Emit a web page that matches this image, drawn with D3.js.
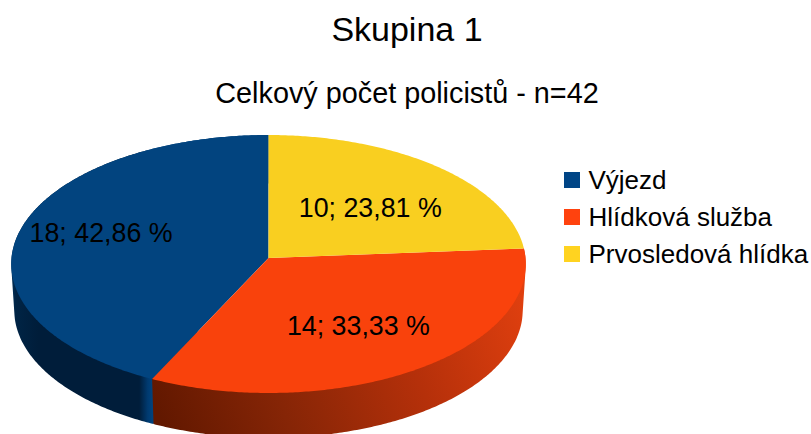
<!DOCTYPE html>
<html><head><meta charset="utf-8">
<script src="https://cdn.jsdelivr.net/npm/d3@7"></script>
<style>html,body{margin:0;padding:0;background:#fff;overflow:hidden}svg{display:block}text{font-family:"Liberation Sans",Arial,sans-serif;fill:#000}</style>
</head><body><svg id="c" width="811" height="434"></svg>
<script>
const categories = ["Výjezd", "Hlídková služba", "Prvosledová hlídka"];
const values = [18, 14, 10];
const titleText = "Skupina 1";
const subtitleText = "Celkový počet policistů - n=42";
const legendColors = ["#004586", "#ff420e", "#ffd320"];
const faceColors = ["#02447f", "#f9420c", "#f9cf20"];

const svg = d3.select("#c");
const cx = 268.5, cy = 258, A = 257, B = 128.7, K = 0.0465, depth = 46.5, botScale = 0.988;
const pie = d3.pie().sort(null).startAngle(2 * Math.PI).endAngle(0);
const arcs = pie(values);
const total = d3.sum(values);

function proj(theta, r = 1, dy = 0, s = 1) {
  const u = r * Math.sin(theta), v = r * Math.cos(theta), w = 1 + K * v;
  return [cx + s * A * u / w, cy + dy - s * B * v / w];
}
function samples(a, b) {
  const n = Math.max(2, Math.ceil(Math.abs(b - a) / 0.01));
  return d3.range(n + 1).map(i => a + (b - a) * i / n);
}
const line = d3.line();

const defs = svg.append("defs");
const wallStops = [
  [["0%", "#003460"], ["4%", "#002445"], ["20%", "#001d3a"], ["91%", "#001d3a"], ["97%", "#003a70"], ["100%", "#00427c"]],
  [["0%", "#621800"], ["30%", "#862506"], ["65%", "#b5300a"], ["100%", "#e2400f"]]
];
const wallVec = [[10, 0, 152, 0], [165, 430, 527, 285]];
wallStops.forEach((st, i) => {
  const g = defs.append("linearGradient").attr("id", "wall" + i)
    .attr("gradientUnits", "userSpaceOnUse")
    .attr("x1", wallVec[i][0]).attr("y1", wallVec[i][1]).attr("x2", wallVec[i][2]).attr("y2", wallVec[i][3]);
  st.forEach(s => g.append("stop").attr("offset", s[0]).attr("stop-color", s[1]));
});

// side walls: hull of the rim arc and its lower copy, the top faces hide the rest
arcs.slice(0, 2).forEach((d, i) => {
  const ts = samples(d.startAngle, d.endAngle);
  const hull = d3.polygonHull(ts.map(t => proj(t)).concat(ts.map(t => proj(t, 1, depth, botScale))));
  svg.append("path").attr("d", line(hull) + "Z").attr("fill", `url(#wall${i})`);
});

// top faces
arcs.forEach((d, i) => {
  const pts = [proj(0, 0)].concat(samples(d.startAngle, d.endAngle).map(t => proj(t)));
  svg.append("path").attr("d", line(pts) + "Z").attr("fill", faceColors[i]);
});

// data labels
const labelR = 0.6, labelNudge = [[-18, -8], [1, 3], [-1, 5]];
arcs.forEach((d, i) => {
  const p = proj((d.startAngle + d.endAngle) / 2, labelR);
  const pct = (d.value / total * 100).toFixed(2).replace(".", ",");
  svg.append("text").attr("x", p[0] + labelNudge[i][0]).attr("y", p[1] + labelNudge[i][1] + 9)
    .attr("text-anchor", "middle").attr("font-size", 26.8).text(`${d.value}; ${pct} %`);
});

// titles
svg.append("text").attr("x", 407).attr("y", 41).attr("text-anchor", "middle").attr("font-size", 34).text(titleText);
svg.append("text").attr("x", 407).attr("y", 103).attr("text-anchor", "middle").attr("font-size", 28.8).text(subtitleText);

// legend
const ly = d3.scalePoint().domain(categories).range([172, 246]);
categories.forEach((c, i) => {
  svg.append("rect").attr("x", 564).attr("y", ly(c)).attr("width", 16).attr("height", 16).attr("fill", legendColors[i]);
  svg.append("text").attr("x", 588.5).attr("y", ly(c) + 17).attr("font-size", 26).text(c);
});
</script></body></html>
